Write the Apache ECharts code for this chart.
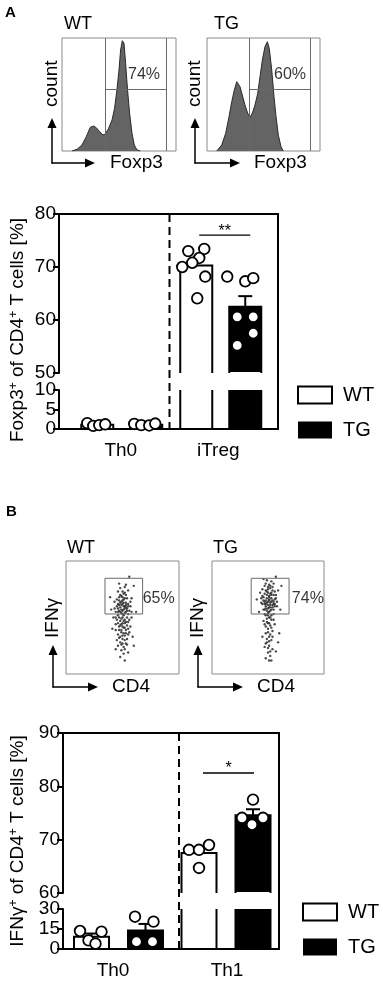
<!DOCTYPE html>
<html>
<head>
<meta charset="utf-8">
<script src="https://cdn.jsdelivr.net/npm/echarts@6/dist/echarts.min.js"></script>
<style>
html, body { margin: 0; padding: 0; background: #fff; }
#chart { width: 383px; height: 982px; }
</style>
</head>
<body>
<div id="chart"></div>
<script>
// ---------- values ----------
var groupsA = ['Th0', 'iTreg'];
var groupsB = ['Th0', 'Th1'];

// Foxp3 histograms, x / y in % of the plot box
var histWT = [[8.8,0],[13.2,1.5],[17.5,5.3],[21.3,12.7],[24.8,21],[27.7,22.1],[30.1,20.6],[33,17.1],[36,14.2],[38,15],[40.9,20.1],[43.9,27.4],[46.1,37.8],[48.2,54],[50,71.7],[51.4,89.4],[52.9,97.6],[54.4,95.3],[55.8,77.6],[57.5,54],[59.3,33.4],[61.4,15.7],[63.4,5.3],[65.8,0.9],[68.7,0]];
var histTG = [[8.6,0],[13,5.3],[16.5,15.6],[19.5,30.4],[21.9,43.6],[24.2,54],[26.3,61.3],[27.7,59.9],[29.2,56.9],[31.2,49.6],[33.6,40.7],[36,33.4],[38.1,29.8],[40.1,33.4],[42.5,40.7],[44.9,51],[46.9,65.7],[49,80.5],[51.3,92.3],[53.4,96.7],[55.1,90.9],[57.3,71.7],[59.3,48.1],[61.1,30.4],[63.1,14.2],[65.5,3.8],[67.5,0]];
var gateHistWT = [38.2, 91.2, 54.6];   // left, right, level
var gateHistTG = [37.4, 91.2, 54.6];
var pctA = ['74%', '60%'];

// IFNg / CD4 dot plots, x / y in % of the plot box
var dotsWT = [[50,62],[52,60],[48,59],[51,57],[54,58],[47,56],[49,54],[53,55],[51,52],[55,53],[46,52],[50,50],[52,48],[48,47],[54,50],[56,56],[45,60],[49,64],[53,63],[51,66],[47,65],[55,62],[50,68],[53,70],[48,70],[46,58],[57,60],[44,55],[52,45],[49,44],[55,46],[47,42],[51,41],[53,39],[45,48],[50,73],[55,74],[46,73],[52,77],[58,67],[43,64],[42,50],[58,50],[44,44],[57,42],[49,37],[52,34],[46,35],[55,35],[50,31],[48,28],[53,27],[45,30],[51,24],[49,21],[56,86],[47,80],[60,78],[40,57],[62,55],[41,40],[59,33],[44,22],[55,19],[48,15],[52,12],[60,25],[39,68],
    [49,61],[51,63],[53,59],[47,61],[50,56],[52,54],[48,55],[54,56],[50,53],[46,55],[52,58],[49,57],[51,60],[53,61],[48,63],[50,65],[52,67],[46,62],[55,60],[47,50],[49,49],[51,47],[53,46],[50,45],[48,43],[52,41],[54,43],[46,45],[50,42],[49,39],[51,36],[48,33],[53,36],[47,39],[55,40],[50,34],[52,30],[47,32],[54,31],[49,26],[52,22],[46,25],[51,18],[54,26],[44,50],[56,48],[45,66],[57,64],[49,69],[51,71],[47,68],[54,67],[52,72],[48,76],[53,79],[43,58],[58,55],[44,39],[56,37],[50,27]];
var dotsTG = [[51,66],[53,64],[49,63],[52,61],[55,62],[48,60],[50,58],[54,59],[52,56],[47,57],[51,68],[49,70],[53,70],[46,65],[56,66],[50,72],[54,74],[48,74],[52,76],[45,69],[57,70],[47,62],[55,57],[50,54],[53,52],[48,52],[51,50],[56,60],[44,63],[58,64],[51,79],[55,80],[47,78],[59,74],[43,72],[53,48],[49,46],[52,43],[50,40],[54,38],[48,36],[51,33],[53,30],[49,28],[51,25],[47,24],[54,22],[50,19],[52,16],[56,44],[46,47],[57,86],[46,84],[62,78],[40,66],[61,57],[60,36],[59,28],[45,33],[48,14],[53,12],[57,20],[42,55],
    [50,64],[52,63],[48,62],[53,67],[51,65],[49,67],[54,65],[47,64],[50,61],[52,59],[55,64],[48,65],[51,69],[53,72],[49,73],[46,68],[55,70],[50,75],[52,71],[47,71],[54,61],[48,58],[51,59],[53,57],[49,56],[56,62],[45,62],[57,67],[50,77],[52,78],[48,80],[54,77],[51,55],[50,52],[52,50],[49,49],[51,45],[53,41],[48,42],[50,37],[52,35],[49,31],[51,29],[50,23],[52,20],[48,27],[54,33],[47,44],[55,48],[46,57],[58,60],[44,67],[56,73],[45,75],[53,82],[49,83],[55,53],[47,53],[50,45],[51,12]];
var gateDotWT = [34.5, 67.8, 53.1, 84.7];   // x1, x2, y1, y2
var gateDotTG = [35, 68.8, 53.1, 84.7];
var pctB = ['65%', '74%'];

// bar chart A: Foxp3+ of CD4+ T cells [%]
var ticksA_hi = [50, 80, 10];
var ticksA_lo = [0, 10, 5];
var meanA_WT = [1.1, 70.3];
var semA_WT = [0.15, 1.2];
var meanA_TG = [1.1, 62.5];
var semA_TG = [0.1, 2.0];
var ptsA_WT = [[1.5, 0.8, 1.0, 1.2], [73, 73.4, 71.7, 70, 70.8, 68.2, 64.1]];
var ptsA_TG = [[1.3, 1.0, 0.9, 1.4], [68.2, 67.3, 67.9, 60.6, 60.6, 57.5, 55.2]];
var sigA = [1, 76, '**'];

// bar chart B: IFNg+ of CD4+ T cells [%]
var ticksB_hi = [60, 90, 10];
var ticksB_lo = [0, 30, 15];
var meanB_WT = [9.2, 67.5];
var semB_WT = [2.4, 1.0];
var meanB_TG = [13.9, 74.6];
var semB_TG = [4.9, 1.1];
var ptsB_WT = [[13.5, 13, 6.5, 4], [68.1, 68.1, 69, 64.7]];
var ptsB_TG = [[24.2, 20.5, 5.5, 5.5], [77.5, 74.1, 74.1, 72.8]];
var sigB = [1, 82.5, '*'];

// ---------- layout ----------
var FONT = '"Liberation Sans", Arial, Helvetica, sans-serif';
var INK = { color: '#000', width: 2 };
var jitA_WT = [[-10, -4, 2, 8], [-8, 8, 3, -14, -4, 9, 1]];
var jitA_TG = [[-12, -5, 3, 9], [-18, 0, 8, -8, 8, 8, -8]];
var jitB_WT = [[-11.5, 10, -3, 4], [-10, 0, 10, 0]];
var jitB_TG = [[-10.5, 8, -9, 7], [0, -11, 10, -1]];

var grids = [], xAxes = [], yAxes = [], series = [];

function addGrid(g, xa, ya) {
    grids.push(g);
    var gi = grids.length - 1;
    xa.gridIndex = gi;
    ya.gridIndex = gi;
    xAxes.push(xa);
    yAxes.push(ya);
    return { g: gi, x: xAxes.length - 1, y: yAxes.length - 1 };
}

function hiddenAxis() {
    return { type: 'value', min: 0, max: 100, show: false };
}

function histPanel(box, pts, gate, pct, pos) {
    box.show = true;
    box.borderColor = '#8a8a8a';
    box.borderWidth = 1;
    var ax = addGrid(box, hiddenAxis(), hiddenAxis());
    series.push({
        type: 'line', xAxisIndex: ax.x, yAxisIndex: ax.y, data: pts, symbol: 'none', silent: true, z: 2,
        lineStyle: { color: '#2a2a2a', width: 1 },
        areaStyle: { color: '#646464', opacity: 1 }
    });
    series.push({
        type: 'lines', coordinateSystem: 'cartesian2d', xAxisIndex: ax.x, yAxisIndex: ax.y, silent: true, z: 3,
        lineStyle: { color: '#6a6a6a', width: 1, opacity: 1 },
        data: [
            { coords: [[gate[0], 0], [gate[0], 100]] },
            { coords: [[gate[1], 0], [gate[1], 100]] },
            { coords: [[gate[0], gate[2]], [gate[1], gate[2]]] }
        ]
    });
    series.push({
        type: 'scatter', xAxisIndex: ax.x, yAxisIndex: ax.y, data: [pos], symbolSize: 0, silent: true, z: 4,
        label: { show: true, position: 'inside', formatter: pct, fontSize: 16, color: '#000', fontFamily: FONT }
    });
}

function dotPanel(box, pts, gate, pct, pos) {
    box.show = true;
    box.borderColor = '#8a8a8a';
    box.borderWidth = 1;
    var ax = addGrid(box, hiddenAxis(), hiddenAxis());
    series.push({
        type: 'scatter', xAxisIndex: ax.x, yAxisIndex: ax.y, data: pts, symbolSize: 2.4, silent: true, z: 2,
        itemStyle: { color: '#2a2a2a', opacity: 0.85 }
    });
    series.push({
        type: 'lines', coordinateSystem: 'cartesian2d', polyline: true, xAxisIndex: ax.x, yAxisIndex: ax.y, silent: true, z: 3,
        lineStyle: { color: '#6a6a6a', width: 1, opacity: 1 },
        data: [{ coords: [[gate[0], gate[2]], [gate[1], gate[2]], [gate[1], gate[3]], [gate[0], gate[3]], [gate[0], gate[2]]] }]
    });
    series.push({
        type: 'scatter', xAxisIndex: ax.x, yAxisIndex: ax.y, data: [pos], symbolSize: 0, silent: true, z: 4,
        label: { show: true, position: 'inside', formatter: pct, fontSize: 16, color: '#000', fontFamily: FONT }
    });
}

function arrowAxis(name, gap, rotate) {
    return {
        type: 'value', min: 0, max: 1,
        axisLine: { show: true, onZero: false, symbol: ['none', 'triangle'], symbolSize: [9, 10], lineStyle: { color: '#000', width: 1.5 } },
        axisTick: { show: false }, axisLabel: { show: false }, splitLine: { show: false },
        name: name, nameLocation: 'end', nameGap: gap, nameRotate: rotate,
        nameTextStyle: { fontSize: 19, color: '#000', fontFamily: FONT }
    };
}

function arrowPanel(box, xName, yName, xGap, yGap) {
    addGrid(box, arrowAxis(xName, xGap, 0), arrowAxis(yName, yGap, 90));
}

function barSeries(name, ax, means, sems, fill, lay, side) {
    return {
        type: 'custom', name: name, xAxisIndex: ax.x, yAxisIndex: ax.y, z: 3, silent: true,
        data: means.map(function (m, i) { return [i, m, sems[i]]; }),
        renderItem: function (params, api) {
            var cs = params.coordSys;
            var top = cs.y, bottom = cs.y + cs.height;
            var cat = api.value(0), v = api.value(1), s = api.value(2);
            var p = api.coord([cat, v]);
            var kids = [];
            if (p[1] >= bottom) return { type: 'group', children: kids };
            var cx = p[0] + lay.shift[cat] + side;
            var x0 = cx - lay.barW / 2, x1 = cx + lay.barW / 2;
            var yt = Math.max(p[1], top);
            var line = { stroke: '#000', lineWidth: 2, fill: 'none' };
            kids.push({ type: 'rect', shape: { x: x0, y: yt, width: lay.barW, height: bottom - yt - 1 }, style: { fill: fill } });
            if (p[1] < top) {
                kids.push({ type: 'line', shape: { x1: x0, y1: top, x2: x0, y2: bottom }, style: line });
                kids.push({ type: 'line', shape: { x1: x1, y1: top, x2: x1, y2: bottom }, style: line });
            } else {
                kids.push({ type: 'polyline', shape: { points: [[x0, bottom], [x0, yt], [x1, yt], [x1, bottom]] }, style: line });
                var e = api.coord([cat, v + s])[1];
                if (e >= top) {
                    kids.push({ type: 'line', shape: { x1: cx, y1: yt, x2: cx, y2: e }, style: line });
                    kids.push({ type: 'line', shape: { x1: cx - 7, y1: e, x2: cx + 7, y2: e }, style: line });
                }
            }
            return { type: 'group', children: kids };
        }
    };
}

function pointSeries(name, ax, pts, jit, lay, side) {
    var data = [], offs = [];
    pts.forEach(function (arr, cat) {
        arr.forEach(function (v, k) {
            data.push([cat, v]);
            offs.push(jit[cat][k]);
        });
    });
    return {
        type: 'custom', name: name, xAxisIndex: ax.x, yAxisIndex: ax.y, z: 5, silent: true, data: data,
        renderItem: function (params, api) {
            var cs = params.coordSys;
            var cat = api.value(0), v = api.value(1);
            var p = api.coord([cat, v]);
            if (p[1] > cs.y + cs.height + 2 || p[1] < cs.y - 2) return { type: 'group', children: [] };
            return {
                type: 'circle',
                shape: { cx: p[0] + lay.shift[cat] + side + offs[params.dataIndex], cy: p[1], r: 5.3 },
                style: { fill: '#fff', stroke: '#000', lineWidth: 1.8 }
            };
        }
    };
}

function barPanel(c) {
    function yAx(r) {
        return {
            type: 'value', min: r[0], max: r[1], interval: r[2],
            axisLine: { show: true, onZero: false, lineStyle: INK },
            axisTick: { show: true, length: 6, lineStyle: INK },
            axisLabel: { fontSize: 19, color: '#000', margin: 3, fontFamily: FONT },
            splitLine: { show: false }
        };
    }
    var lay = c.lay;
    var richLab = {};
    c.cats.forEach(function (n, i) {
        richLab['c' + i] = { fontSize: 19, color: '#000', fontFamily: FONT, padding: lay.labelPad[i] };
    });
    var hi = addGrid({ left: c.left, width: c.width, top: c.hiTop, height: c.hiH },
        { type: 'category', data: c.cats, position: 'top',
          axisLine: { show: true, onZero: false, lineStyle: INK }, axisTick: { show: false }, axisLabel: { show: false } },
        yAx(c.hi));
    var lo = addGrid({ left: c.left, width: c.width, top: c.loTop, height: c.loH },
        { type: 'category', data: c.cats, position: 'bottom',
          axisLine: { show: true, onZero: false, lineStyle: INK }, axisTick: { show: false },
          axisLabel: { margin: 12, formatter: function (v, i) { return '{c' + i + '|' + v + '}'; }, rich: richLab } },
        yAx(c.lo));
    var fr = addGrid({ left: c.left, width: c.width, top: c.hiTop, height: c.loTop + c.loH - c.hiTop },
        { type: 'category', data: c.cats, show: false },
        { type: 'value', min: 0, max: 1, axisLine: { show: false }, axisTick: { show: false },
          axisLabel: { show: false }, splitLine: { show: false },
          name: c.title, nameLocation: 'middle', nameGap: lay.titleGap,
          nameTextStyle: { fontSize: 19, color: '#000', fontFamily: FONT, padding: lay.titlePad,
              rich: { s: { fontSize: 12, color: '#000', fontFamily: FONT, verticalAlign: 'top' } } } });
    yAxes.push({ gridIndex: fr.g, type: 'value', min: 0, max: 1, position: 'right',
        axisLine: { show: true, lineStyle: INK }, axisTick: { show: false }, axisLabel: { show: false }, splitLine: { show: false } });

    [hi, lo].forEach(function (ax) {
        series.push(barSeries('WT', ax, c.mWT, c.sWT, '#fff', lay, -lay.side));
        series.push(barSeries('TG', ax, c.mTG, c.sTG, '#000', lay, lay.side));
        series.push(pointSeries('WT points', ax, c.pWT, c.jWT, lay, -lay.side));
        series.push(pointSeries('TG points', ax, c.pTG, c.jTG, lay, lay.side));
    });

    // significance bar
    series.push({
        type: 'custom', xAxisIndex: hi.x, yAxisIndex: hi.y, z: 4, silent: true, data: [[c.sig[0], c.sig[1]]],
        renderItem: function (params, api) {
            var cat = api.value(0);
            var p = api.coord([cat, api.value(1)]);
            var g = p[0] + lay.shift[cat];
            var xa = g + lay.sigSpan[0], xb = g + lay.sigSpan[1];
            return { type: 'group', children: [
                { type: 'line', shape: { x1: xa, y1: p[1], x2: xb, y2: p[1] }, style: { stroke: '#000', lineWidth: 1.3 } },
                { type: 'text', style: { text: c.sig[2], x: (xa + xb) / 2, y: p[1] + 4, align: 'center', verticalAlign: 'bottom',
                    fontSize: 16, fill: '#000', fontFamily: FONT } }
            ] };
        }
    });

    // dashed divider between the two groups
    series.push({
        type: 'custom', xAxisIndex: fr.x, yAxisIndex: fr.y, z: 2, silent: true, data: [[1, 0]],
        renderItem: function (params, api) {
            var cs = params.coordSys;
            var x = api.coord([1, 0])[0] - api.size([1, 0])[0] / 2 + lay.divShift;
            return { type: 'line', shape: { x1: x, y1: cs.y, x2: x, y2: cs.y + cs.height },
                style: { stroke: '#000', lineWidth: 2, lineDash: [8, 5] } };
        }
    });
}

// ---------- panel A ----------
histPanel({ left: 62, top: 38, width: 114, height: 113 }, histWT, gateHistWT, pctA[0], [72, 67.5]);
histPanel({ left: 207, top: 38, width: 113, height: 113 }, histTG, gateHistTG, pctA[1], [73.5, 67.5]);
arrowPanel({ left: 52, top: 123, width: 38, height: 40 }, 'Foxp3', 'count', 20, 16);
arrowPanel({ left: 195, top: 123, width: 40, height: 40 }, 'Foxp3', 'count', 19, 16);

barPanel({
    cats: groupsA, left: 59, width: 219, hiTop: 214, hiH: 159, loTop: 390, loH: 39,
    hi: ticksA_hi, lo: ticksA_lo,
    mWT: meanA_WT, sWT: semA_WT, mTG: meanA_TG, sTG: semA_TG,
    pWT: ptsA_WT, pTG: ptsA_TG, jWT: jitA_WT, jTG: jitA_TG, sig: sigA,
    title: 'Foxp3{s|+} of CD4{s|+} T cells [%]',
    lay: { shift: [8, -2.5], side: 24.5, barW: 32, labelPad: [[0, 0, 0, 14], [0, 10, 0, 0]],
        sigSpan: [-21.5, 29.5], divShift: -0.5, titleGap: 35, titlePad: [0, 17, 0, 0] }
});

// ---------- panel B ----------
dotPanel({ left: 66, top: 561, width: 113, height: 113 }, dotsWT, gateDotWT, pctB[0], [82, 66.6]);
dotPanel({ left: 212, top: 561, width: 112, height: 113 }, dotsTG, gateDotTG, pctB[1], [85.6, 66.6]);
arrowPanel({ left: 53, top: 650, width: 40, height: 37 }, 'CD4', 'IFNγ', 19, 12);
arrowPanel({ left: 198, top: 650, width: 40, height: 37 }, 'CD4', 'IFNγ', 19, 12);

barPanel({
    cats: groupsB, left: 63, width: 216, hiTop: 733, hiH: 160, loTop: 909, loH: 40,
    hi: ticksB_hi, lo: ticksB_lo,
    mWT: meanB_WT, sWT: semB_WT, mTG: meanB_TG, sTG: semB_TG,
    pWT: ptsB_WT, pTG: ptsB_TG, jWT: jitB_WT, jTG: jitB_TG, sig: sigB,
    title: 'IFNγ{s|+} of CD4{s|+} T cells [%]',
    lay: { shift: [1.5, 1], side: 27, barW: 35, labelPad: [[0, 8, 0, 0], [0, 0, 0, 4]],
        sigSpan: [-23, 28], divShift: 7, titleGap: 38, titlePad: [0, 0, 0, 0] }
});

function legendAt(left, top) {
    return {
        left: left, top: top, orient: 'vertical', padding: 0, itemWidth: 34, itemHeight: 17, itemGap: 15,
        selectedMode: false,
        textStyle: { fontSize: 20, color: '#000', fontFamily: FONT, padding: [0, 0, 0, 6] },
        data: [
            { name: 'WT', icon: 'rect', itemStyle: { color: '#fff', borderColor: '#000', borderWidth: 2 } },
            { name: 'TG', icon: 'rect', itemStyle: { color: '#000', borderColor: '#000', borderWidth: 0 } }
        ]
    };
}

function label(text, left, top, size, weight) {
    return { text: text, left: left, top: top, padding: 0,
        textStyle: { fontSize: size, fontWeight: weight, color: '#000', fontFamily: FONT } };
}

var chart = echarts.init(document.getElementById('chart'));
chart.setOption({
    animation: false,
    backgroundColor: '#fff',
    textStyle: { fontFamily: FONT },
    title: [
        label('A', 5, 5, 15, 'bold'),
        label('WT', 64, 15, 18, 'normal'),
        label('TG', 214, 15, 18, 'normal'),
        label('B', 6, 504, 15, 'bold'),
        label('WT', 67, 539, 18, 'normal'),
        label('TG', 213, 539, 18, 'normal')
    ],
    legend: [legendAt(297, 385), legendAt(302, 902)],
    grid: grids,
    xAxis: xAxes,
    yAxis: yAxes,
    series: series
});
</script>
</body>
</html>
